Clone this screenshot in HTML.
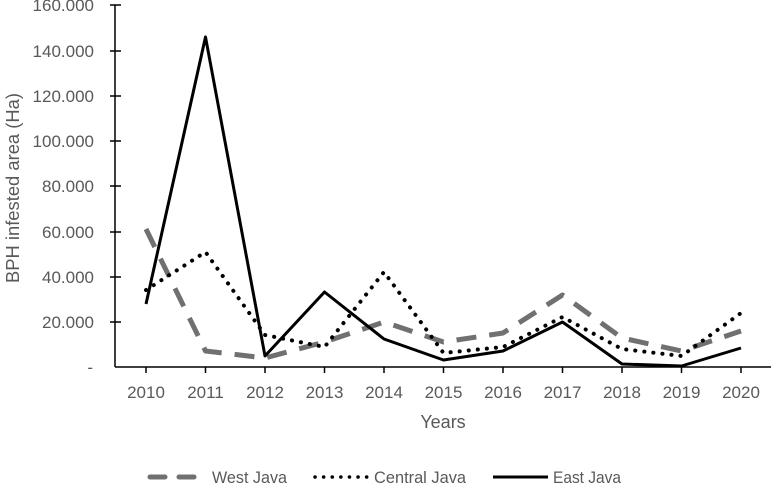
<!DOCTYPE html>
<html><head><meta charset="utf-8"><style>
html,body{margin:0;padding:0;background:#fff;}
svg{display:block;font-family:"Liberation Sans",sans-serif;}
text{fill:#595959;}
</style></head><body>
<svg width="773" height="483" viewBox="0 0 773 483">
<g font-size="17" text-anchor="end">
<text x="94" y="11">160.000</text>
<text x="94" y="57">140.000</text>
<text x="94" y="102">120.000</text>
<text x="94" y="147">100.000</text>
<text x="94" y="192">80.000</text>
<text x="94" y="238">60.000</text>
<text x="94" y="283">40.000</text>
<text x="94" y="328">20.000</text>
<text x="93" y="373">-</text>
</g>
<g stroke="#000" stroke-width="1.5">
<line x1="115" y1="5" x2="115" y2="367"/>
<line x1="115" y1="367" x2="771" y2="367"/>
<line x1="110" y1="5" x2="121" y2="5"/>
<line x1="110" y1="51" x2="121" y2="51"/>
<line x1="110" y1="96" x2="121" y2="96"/>
<line x1="110" y1="141" x2="121" y2="141"/>
<line x1="110" y1="186" x2="121" y2="186"/>
<line x1="110" y1="232" x2="121" y2="232"/>
<line x1="110" y1="277" x2="121" y2="277"/>
<line x1="110" y1="322" x2="121" y2="322"/>
<line x1="146" y1="367" x2="146" y2="373"/>
<line x1="205.5" y1="367" x2="205.5" y2="373"/>
<line x1="265" y1="367" x2="265" y2="373"/>
<line x1="324.5" y1="367" x2="324.5" y2="373"/>
<line x1="384" y1="367" x2="384" y2="373"/>
<line x1="443.5" y1="367" x2="443.5" y2="373"/>
<line x1="503" y1="367" x2="503" y2="373"/>
<line x1="562.5" y1="367" x2="562.5" y2="373"/>
<line x1="622" y1="367" x2="622" y2="373"/>
<line x1="681.5" y1="367" x2="681.5" y2="373"/>
<line x1="741" y1="367" x2="741" y2="373"/>
</g>
<g font-size="17" text-anchor="middle">
<text x="146" y="398">2010</text><text x="205.5" y="398">2011</text><text x="265" y="398">2012</text>
<text x="324.5" y="398">2013</text><text x="384" y="398">2014</text><text x="443.5" y="398">2015</text>
<text x="503" y="398">2016</text><text x="562.5" y="398">2017</text><text x="622" y="398">2018</text>
<text x="681.5" y="398">2019</text><text x="741" y="398">2020</text>
<text x="443" y="428" font-size="18">Years</text>
<text transform="translate(19,188) rotate(-90)" font-size="18" textLength="190" lengthAdjust="spacingAndGlyphs">BPH infested area (Ha)</text>
</g>
<polyline fill="none" stroke="#707070" stroke-width="5" stroke-dasharray="20,13" stroke-linejoin="round"
points="146,229 205.5,351 265,358 324.5,342 384,322 443.5,342 503,333 562.5,295 622,338 681.5,351 741,331"/>
<polyline fill="none" stroke="#000" stroke-width="4" stroke-dasharray="0.1,9" stroke-linecap="round"
points="146,290 205.5,252 265,335 324.5,347 384,272 443.5,353 503,347 562.5,317 622,349 681.5,356 741,313"/>
<polyline fill="none" stroke="#000" stroke-width="3" stroke-linejoin="round"
points="146,304 205.5,37 265,356 324.5,292 384,339 443.5,360 503,351 562.5,322 622,364 681.5,366 741,348"/>
<line x1="150" y1="477" x2="200" y2="477" stroke="#707070" stroke-width="5" stroke-dasharray="15,14" stroke-linecap="round"/>
<text x="212" y="483" font-size="17" textLength="75" lengthAdjust="spacingAndGlyphs">West Java</text>
<line x1="315" y1="477" x2="368" y2="477" stroke="#000" stroke-width="3.5" stroke-dasharray="0.1,8.5" stroke-linecap="round"/>
<text x="374" y="483" font-size="17" textLength="92" lengthAdjust="spacingAndGlyphs">Central Java</text>
<line x1="493" y1="477" x2="548" y2="477" stroke="#000" stroke-width="3"/>
<text x="553" y="483" font-size="17" textLength="68" lengthAdjust="spacingAndGlyphs">East Java</text>
</svg>
</body></html>
